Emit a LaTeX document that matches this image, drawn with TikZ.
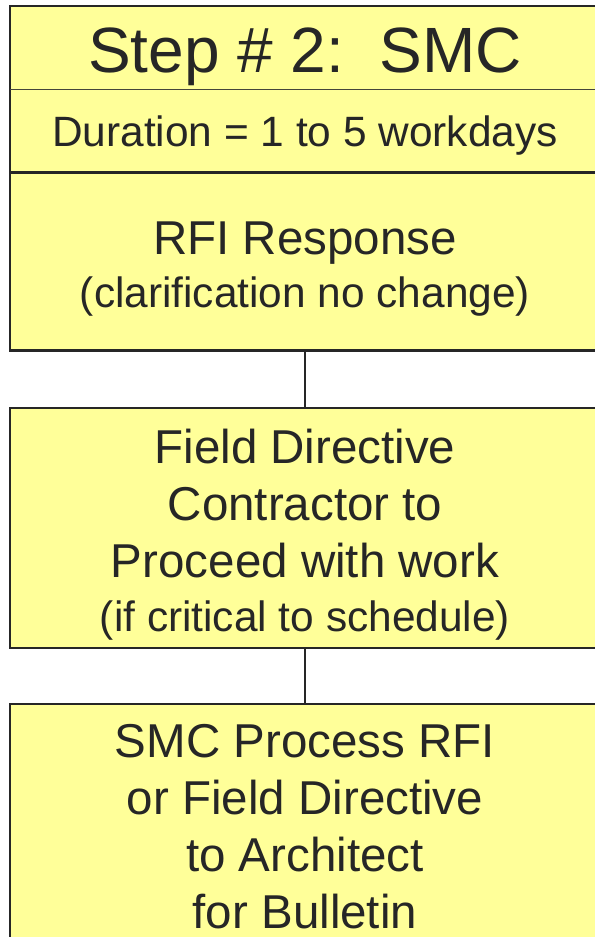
\documentclass[tikz,border=0pt]{standalone}
\usepackage{fontspec}
\setmainfont{Liberation Sans}
\definecolor{boxfill}{HTML}{FFFF99}
\definecolor{ink}{HTML}{262626}
\definecolor{sepgray}{HTML}{45453A}
\newcommand\htstrut[1]{\rule{0pt}{#1}}
\newcommand\dpstrut[1]{\rule[-#1]{0pt}{#1}}
\begin{document}
\begin{tikzpicture}[x=1bp,y=-1bp,
  part/.style={fill=boxfill, text=ink, inner sep=0pt, minimum width=590bp, align=center, anchor=north},
  box/.style={part, draw=ink, line width=2.4bp},
  link/.style={draw=ink, line width=1.8bp},
  big/.style={font=\fontsize{47.5bp}{57bp}\selectfont},
  mid/.style={font=\fontsize{42.4bp}{57bp}\selectfont}
]
\useasboundingbox (0,0) rectangle (595,937);
\fill[white] (0,0) rectangle (595,937);
\node[part, minimum height=83bp, font=\fontsize{64bp}{70bp}\selectfont] (title) at (305,6) {\htstrut{63bp}Step \# 2:\ \ SMC\dpstrut{12bp}};
\node[part, minimum height=83bp, mid] (dur) at (305,89) {\htstrut{43bp}Duration = 1 to 5 workdays\dpstrut{12bp}};
\node[part, minimum height=178bp, big] (rfi) at (305,172) {\htstrut{51bp}RFI Response\\[-4bp]{\fontsize{42.4bp}{57bp}\selectfont (clarification no change)\dpstrut{12bp}}};
\draw[ink, line width=2.4bp] (title.north west) rectangle (rfi.south east);
\draw[sepgray, line width=1.8bp] (title.south west) -- (title.south east);
\draw[ink, line width=2.4bp] (dur.south west) -- (dur.south east);
\node[box, minimum height=240bp, big] (fd) at (305,407) {\htstrut{50bp}Field Directive\\Contractor to\\Proceed with work\\[-3bp]{\fontsize{42.4bp}{57bp}\selectfont (if critical to schedule)\dpstrut{12bp}}};
\node[box, minimum height=242bp, big] (smc) at (305,703) {\htstrut{47bp}SMC Process RFI\\or Field Directive\\to Architect\\for Bulletin\dpstrut{12bp}};
\draw[link] (rfi.south) -- (fd.north);
\draw[link] (fd.south) -- (smc.north);
\end{tikzpicture}
\end{document}
